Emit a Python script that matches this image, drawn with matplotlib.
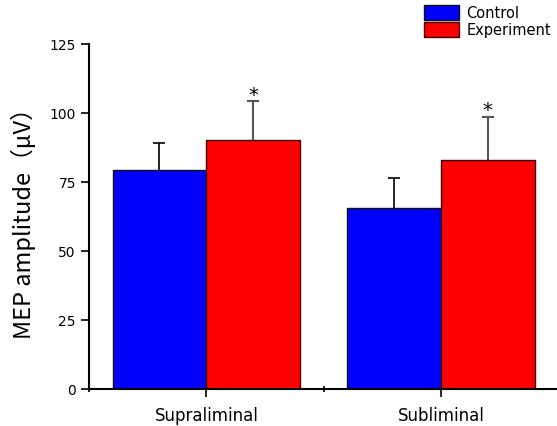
import matplotlib.pyplot as plt
import numpy as np

# data
conditions = ["Supraliminal", "Subliminal"]
control = [79.5, 65.5]
control_err = [9.6, 11.1]
experiment = [90.1, 83.1]
experiment_err = [14.2, 15.6]
stars = ["*", "*"]
yticks = [0, 25, 50, 75, 100, 125]

fig = plt.figure(figsize=(5.57, 4.27), dpi=100)
ax = fig.add_axes([0.160, 0.0867, 0.842, 0.808])

x = np.array([1, 3])
w = 0.8
ax.bar(x - w/2, control, w, color="#0000ff", edgecolor="#111111", linewidth=1.0,
       label="Control", zorder=2)
ax.bar(x + w/2, experiment, w, color="#ff0000", edgecolor="#3a0000", linewidth=1.0,
       label="Experiment", zorder=2)

# upper error bars only
def up_err(xs, vals, errs, col, lw):
    vals = np.array(vals)
    errs = np.array(errs)
    ax.vlines(xs, vals, vals + errs, color=col, linewidth=lw, zorder=1)
    ax.plot(xs, vals + errs, linestyle="none", marker="_", markersize=9,
            markeredgewidth=lw, color=col, zorder=1)

up_err(x - w/2, control, control_err, "black", 1.2)
up_err(x + w/2, experiment, experiment_err, "#555555", 1.5)

# significance marks
for xi, v, e, s in zip(x + w/2, experiment, experiment_err, stars):
    ax.text(xi, v + e - 1.0, s, ha="center", va="bottom", fontsize=14)

ax.set_xlim(0, 4)
ax.set_ylim(0, 125)
ax.set_yticks(yticks)
ax.set_xticks(x)
ax.set_xticklabels(conditions, fontsize=12)
ax.set_xticks([0, 2, 4], minor=True)
ax.tick_params(axis="y", direction="out", length=6, width=1.2, labelsize=10)
ax.tick_params(axis="x", which="major", direction="out", length=6, width=1.2, pad=6)
ax.tick_params(axis="x", which="minor", direction="inout", length=5, width=1.2)
for side in ["top", "right"]:
    ax.spines[side].set_visible(False)
for side in ["left", "bottom"]:
    ax.spines[side].set_linewidth(1.5)

ax.set_ylabel("MEP amplitude（μV）", fontsize=17, family=["Noto Sans CJK JP", "DejaVu Sans"], labelpad=10)

fig.legend(loc="upper right", bbox_to_anchor=(1.0, 1.0), frameon=False, fontsize=10.5,
           handlelength=2.4, handleheight=1.2, handletextpad=0.5, labelspacing=0.1,
           borderaxespad=0.1, borderpad=0.3)

fig.savefig("out.png", dpi=100)
